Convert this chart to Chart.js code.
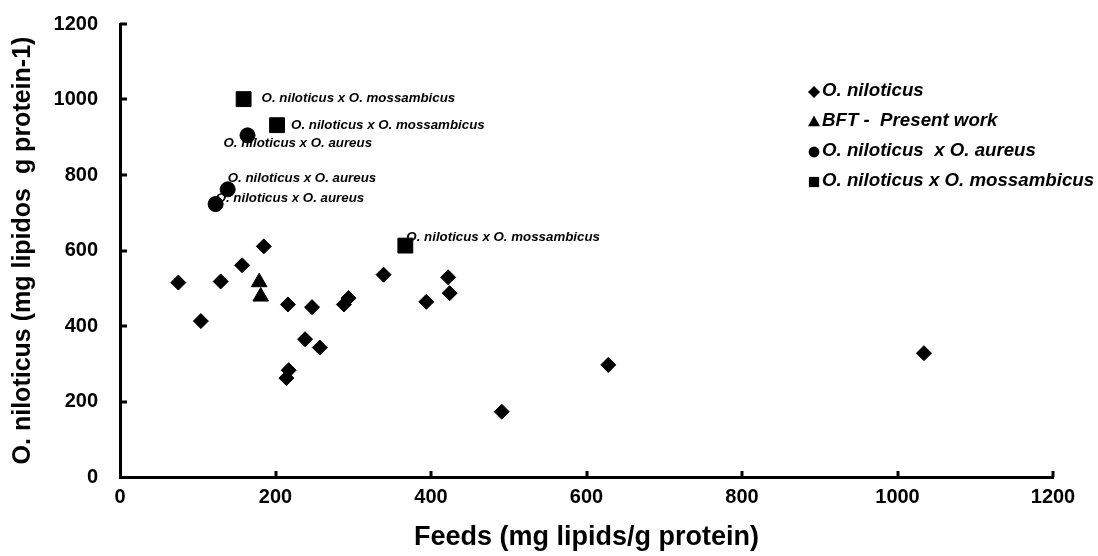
<!DOCTYPE html>
<html>
<head>
<meta charset="utf-8">
<title>Lipids in feeds vs O. niloticus</title>
<script src="https://cdn.jsdelivr.net/npm/chart.js@4.4.0/dist/chart.umd.min.js"></script>
<style>
	html, body { margin: 0; padding: 0; background: #fff; }
	#wrap { width: 1098px; height: 556px; }
</style>
</head>
<body>
<div id="wrap"><canvas id="myChart" width="1098" height="556"></canvas></div>
<script>
// feed lipids (x) vs fish lipids (y), mg lipids / g protein
var niloticusX = [75, 104, 129.5, 157, 185, 216, 247, 238, 257, 217, 214, 288, 294, 339, 394, 422, 424, 491, 628, 1034];
var niloticusY = [515, 413, 518, 561, 611, 457, 450, 365, 343, 283, 262, 457, 474, 536, 464, 529, 487, 173, 297, 328];
var bftX = [179, 181];
var bftY = [516, 478];
var aureusX = [164, 138.5, 123];
var aureusY = [905, 762, 723];
var mossX = [159, 202, 367];
var mossY = [1001, 932, 613];

var seriesNames = ['O. niloticus', 'BFT -  Present work', 'O. niloticus  x O. aureus', 'O. niloticus x O. mossambicus'];
var aureusLabel = 'O. niloticus x O. aureus';
var mossLabel = 'O. niloticus x O. mossambicus';
var axisTicks = [0, 200, 400, 600, 800, 1000, 1200];

var FONT = "'Liberation Sans', Arial, sans-serif";

function toPoints(xs, ys){
	var pts = [];
	for (var i = 0; i < xs.length; i++) {
		pts.push({x: xs[i], y: ys[i]});
	}
	return pts;
}

function dataset(label, xs, ys, style, radius){
	return {
		label: label,
		data: toPoints(xs, ys),
		pointStyle: style,
		pointRadius: radius,
		pointHoverRadius: radius,
		pointBackgroundColor: '#000',
		pointBorderColor: '#000',
		pointBorderWidth: 1,
		showLine: false
	};
}

// text next to the hybrid points: [dataset index, point index, text, dx, dy]
var pointNotes = [
	[3, 0, mossLabel, 18, -1],
	[3, 1, mossLabel, 14, 0],
	[3, 2, mossLabel, 1, -8],
	[2, 0, aureusLabel, -24, 8],
	[2, 1, aureusLabel, 0, -11],
	[2, 2, aureusLabel, 0, -6]
];

var notesPlugin = {
	id: 'notes',
	beforeDatasetsDraw: function(chart){
		var ctx = chart.ctx;
		ctx.save();
		ctx.fillStyle = '#000';
		ctx.font = 'italic bold 13.3px ' + FONT;
		ctx.textAlign = 'left';
		ctx.textBaseline = 'middle';
		pointNotes.forEach(function(n){
			var p = chart.data.datasets[n[0]].data[n[1]];
			var px = chart.scales.x.getPixelForValue(p.x);
			var py = chart.scales.y.getPixelForValue(p.y);
			ctx.fillText(n[2], px + n[3], py + n[4]);
		});
		ctx.restore();
	}
};

// small inward tick marks on both axes
var ticksPlugin = {
	id: 'innerTicks',
	afterDraw: function(chart){
		var ctx = chart.ctx, xs = chart.scales.x, ys = chart.scales.y;
		var left = chart.chartArea.left, bottom = chart.chartArea.bottom;
		ctx.save();
		ctx.strokeStyle = '#000';
		ctx.lineWidth = 3;
		ctx.beginPath();
		axisTicks.forEach(function(v){
			if (v === 0) return;
			var x = Math.round(xs.getPixelForValue(v));
			ctx.moveTo(x, bottom);
			ctx.lineTo(x, bottom - 6);
			var y = Math.round(ys.getPixelForValue(v));
			ctx.moveTo(left, y);
			ctx.lineTo(left + 7, y);
		});
		ctx.stroke();
		ctx.restore();
	}
};

function drawMarker(ctx, style, x, y, r){
	ctx.beginPath();
	if (style === 'rectRot') {
		ctx.moveTo(x, y - r); ctx.lineTo(x + r, y); ctx.lineTo(x, y + r); ctx.lineTo(x - r, y);
	} else if (style === 'triangle') {
		ctx.moveTo(x, y - r * 1.1); ctx.lineTo(x + r, y + r * 0.7); ctx.lineTo(x - r, y + r * 0.7);
	} else if (style === 'circle') {
		ctx.arc(x, y, r * 0.9, 0, Math.PI * 2);
	} else {
		ctx.rect(x - r * 0.85, y - r * 0.85, r * 1.7, r * 1.7);
	}
	ctx.closePath();
	ctx.fill();
}

var legendPlugin = {
	id: 'sideLegend',
	afterDraw: function(chart){
		var ctx = chart.ctx;
		ctx.save();
		ctx.fillStyle = '#000';
		ctx.font = 'italic bold 18.7px ' + FONT;
		ctx.textAlign = 'left';
		ctx.textBaseline = 'middle';
		chart.data.datasets.forEach(function(ds, i){
			var y = 91 + i * 30;
			drawMarker(ctx, ds.pointStyle, 814, y + 1, 6);
			ctx.fillText(ds.label, 822, y);
		});
		ctx.restore();
	}
};

var tickFont = {family: FONT, size: 20, weight: 'bold'};
var plainTick = function(value){ return String(value); };

// keep the plot box where the layout padding puts it
function dropLabelPadding(axis){
	axis.paddingTop = 0;
	axis.paddingBottom = 0;
	axis.paddingLeft = 0;
	axis.paddingRight = 0;
}

var ctx = document.getElementById('myChart').getContext('2d');
var myChart = new Chart(ctx, {
	type: 'scatter',
	data: {
		datasets: [
			dataset(seriesNames[0], niloticusX, niloticusY, 'rectRot', 7.5),
			dataset(seriesNames[1], bftX, bftY, 'triangle', 9),
			dataset(seriesNames[2], aureusX, aureusY, 'circle', 7.5),
			dataset(seriesNames[3], mossX, mossY, 'rect', 10.5)
		]
	},
	options: {
		responsive: false,
		animation: false,
		layout: {padding: {top: 24, right: 45, left: 0, bottom: 0}},
		plugins: {
			legend: {display: false},
			tooltip: {enabled: false}
		},
		scales: {
			x: {
				type: 'linear',
				min: 0,
				max: 1200,
				afterBuildTicks: function(axis){
					axis.ticks = axisTicks.map(function(v){ return {value: v}; });
				},
				afterFit: function(axis){ axis.height = 79; dropLabelPadding(axis); },
				grid: {display: false, drawTicks: false},
				border: {display: true, color: '#000', width: 3},
				ticks: {color: '#000', font: tickFont, padding: 8, maxRotation: 0, callback: plainTick},
				title: {
					display: true,
					text: 'Feeds (mg lipids/g protein)',
					color: '#000',
					font: {family: FONT, size: 27, weight: 'bold'},
					padding: {top: 0, bottom: 2}
				}
			},
			y: {
				type: 'linear',
				min: 0,
				max: 1200,
				afterBuildTicks: function(axis){
					axis.ticks = axisTicks.map(function(v){ return {value: v}; });
				},
				afterFit: function(axis){ axis.width = 120; dropLabelPadding(axis); },
				grid: {display: false, drawTicks: false},
				border: {display: true, color: '#000', width: 3},
				ticks: {color: '#000', font: tickFont, padding: 22, callback: plainTick},
				title: {
					display: true,
					text: 'O. niloticus (mg lipidos  g protein-1)',
					color: '#000',
					font: {family: FONT, size: 25, weight: 'bold'},
					padding: {top: 8, bottom: 0}
				}
			}
		}
	},
	plugins: [notesPlugin, ticksPlugin, legendPlugin]
});
</script>
</body>
</html>
